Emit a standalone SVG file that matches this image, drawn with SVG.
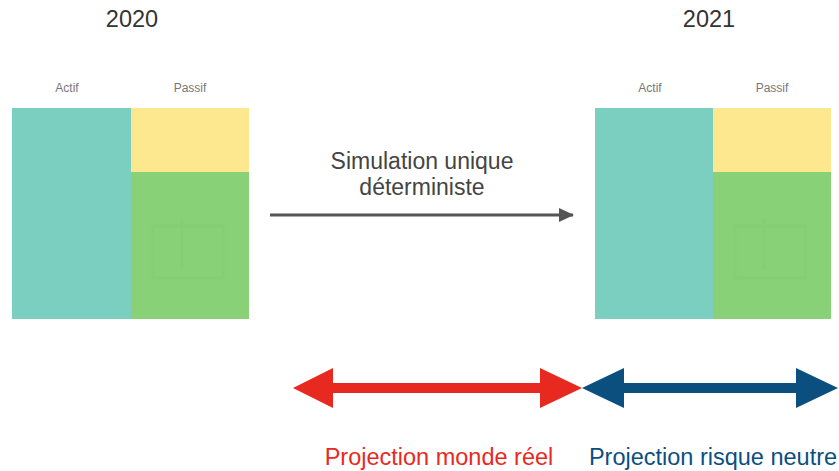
<svg xmlns="http://www.w3.org/2000/svg" width="839" height="471" viewBox="0 0 839 471">
<style>
text{font-family:"Liberation Sans",Arial,sans-serif;text-anchor:middle}
.year{font-size:23.5px;fill:#333}
.small{font-size:12px;fill:#777}
.big{font-size:23px;fill:#444}
.proj{font-size:23.5px}
.teal{fill:#7bcfc0}
.yel{fill:#fde78f}
.grn{fill:#88d177}
.wm{fill:none;stroke:#85ce74;stroke-width:3}
</style>
<defs>
<marker id="ah" markerWidth="15" markerHeight="14" refX="14" refY="7" orient="auto" markerUnits="userSpaceOnUse">
<path d="M0,0 L15,7 L0,14 Z" fill="#555"/>
</marker>
</defs>
<rect width="839" height="471" fill="#fff"/>
<g id="bilan2020">
<text class="year" x="132" y="27">2020</text>
<text class="small" x="67" y="92">Actif</text>
<text class="small" x="190" y="92">Passif</text>
<rect class="teal" x="12" y="108" width="119" height="211"/>
<rect class="yel" x="131" y="108" width="118" height="64"/>
<rect class="grn" x="131" y="172" width="118" height="147"/>
<rect class="wm" x="153" y="226" width="70" height="52"/>
<line class="wm" x1="182" y1="218" x2="182" y2="270"/>
</g>
<g id="bilan2021">
<text class="year" x="709" y="27">2021</text>
<text class="small" x="650" y="92">Actif</text>
<text class="small" x="772" y="92">Passif</text>
<rect class="teal" x="595" y="108" width="118" height="211"/>
<rect class="yel" x="713" y="108" width="118" height="64"/>
<rect class="grn" x="713" y="172" width="118" height="147"/>
<rect class="wm" x="735" y="226" width="70" height="52"/>
<line class="wm" x1="764" y1="218" x2="764" y2="270"/>
</g>
<g id="connectors">
<line x1="270" y1="215" x2="573" y2="215" stroke="#555" stroke-width="3" marker-end="url(#ah)"/>
<polygon points="293,388 333,368 333,383 540,383 540,368 582,388 540,408 540,393 333,393 333,408" fill="#e8291f"/>
<polygon points="582,388 624,368 624,383 796,383 796,368 838,388 796,408 796,393 624,393 624,408" fill="#0b4f7f"/>
</g>
<g id="labels">
<text class="big" x="422" y="169">Simulation unique</text>
<text class="big" x="422" y="195">déterministe</text>
<text class="proj" x="439" y="465" fill="#e8291f">Projection monde réel</text>
<text class="proj" x="713" y="465" fill="#0b4f7f">Projection risque neutre</text>
</g>
</svg>
